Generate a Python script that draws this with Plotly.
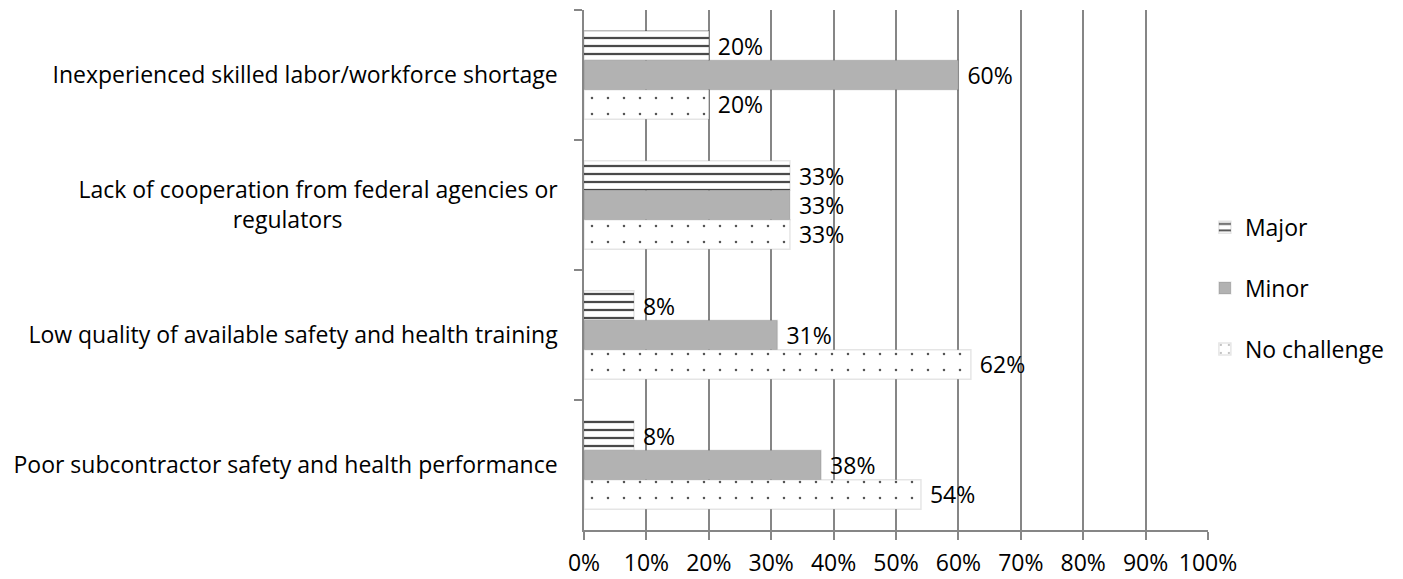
import plotly.graph_objects as go

categories = [
    "Inexperienced skilled labor/workforce shortage",
    "Lack of cooperation from federal agencies or<br>regulators" + "\u00a0" * 36,
    "Low quality of available safety and health training",
    "Poor subcontractor safety and health performance",
]
major = [0.20, 0.33, 0.08, 0.08]
minor = [0.60, 0.33, 0.31, 0.38]
no_challenge = [0.20, 0.33, 0.62, 0.54]
x_ticks = [i / 10 for i in range(11)]
x_tick_labels = [f"{i*10}%" for i in range(11)]

FONT = "Open Sans"
FS = 23
fig = go.Figure()

def lbl(vals):
    return ["\u00a0" + f"{round(v*100)}%" for v in vals]

fig.add_trace(go.Bar(
    name="Major", y=categories, x=major, orientation="h",
    text=lbl(major), textposition="outside", cliponaxis=False,
    marker=dict(color="white",
                pattern=dict(shape="-", fgcolor="#4a4a4a", bgcolor="white", size=8, solidity=0.28, fillmode="replace"),
                line=dict(color="rgba(0,0,0,0.10)", width=1.5)),
    legendgroup="a",
))
fig.add_trace(go.Bar(
    name="Minor", y=categories, x=minor, orientation="h",
    text=lbl(minor), textposition="outside", cliponaxis=False,
    marker=dict(color="#b2b2b2", line=dict(color="rgba(0,0,0,0.08)", width=1.5)),
    legendgroup="b",
))
fig.add_trace(go.Bar(
    name="No challenge", y=categories, x=no_challenge, orientation="h",
    text=lbl(no_challenge), textposition="outside", cliponaxis=False,
    marker=dict(color="white",
                pattern=dict(shape=".", fgcolor="#555555", bgcolor="white", size=16, solidity=0.02, fillmode="replace"),
                line=dict(color="rgba(0,0,0,0.10)", width=1.5)),
    legendgroup="c",
))

# the page body adds an 8px offset; compensate so the plot area lands at 584..1208 x 10..530
fig.update_layout(
    width=1395, height=571,
    margin=dict(l=576, r=195, t=2, b=49, autoexpand=False),
    paper_bgcolor="white", plot_bgcolor="white",
    barmode="group", bargap=0.32, bargroupgap=0.0,
    font=dict(family=FONT, size=FS, color="black"),
    uniformtext=dict(minsize=FS, mode="show"),
    legend=dict(x=0.995, y=0.465, xanchor="left", yanchor="middle",
                traceorder="grouped", tracegroupgap=28,
                font=dict(family=FONT, size=FS), itemwidth=30),
    showlegend=True,
)
fig.update_traces(textfont=dict(family=FONT, size=FS, color="black"))
fig.update_xaxes(
    range=[0, 1], tickvals=x_ticks, ticktext=x_tick_labels,
    showgrid=True, gridcolor="#868686", gridwidth=1.5,
    showline=True, linecolor="#868686", linewidth=1.5,
    ticks="outside", ticklen=8, tickcolor="#868686", tickwidth=1.5,
    zeroline=False, fixedrange=True, automargin=False, ticklabelstandoff=4,
)
fig.update_yaxes(
    autorange="reversed", showgrid=False,
    showline=True, linecolor="#868686", linewidth=1.5,
    ticks="outside", ticklen=8, tickcolor="#868686", tickwidth=1.5,
    tickson="boundaries", ticklabelstandoff=20, automargin=False,
)

fig.write_html("out.html")
